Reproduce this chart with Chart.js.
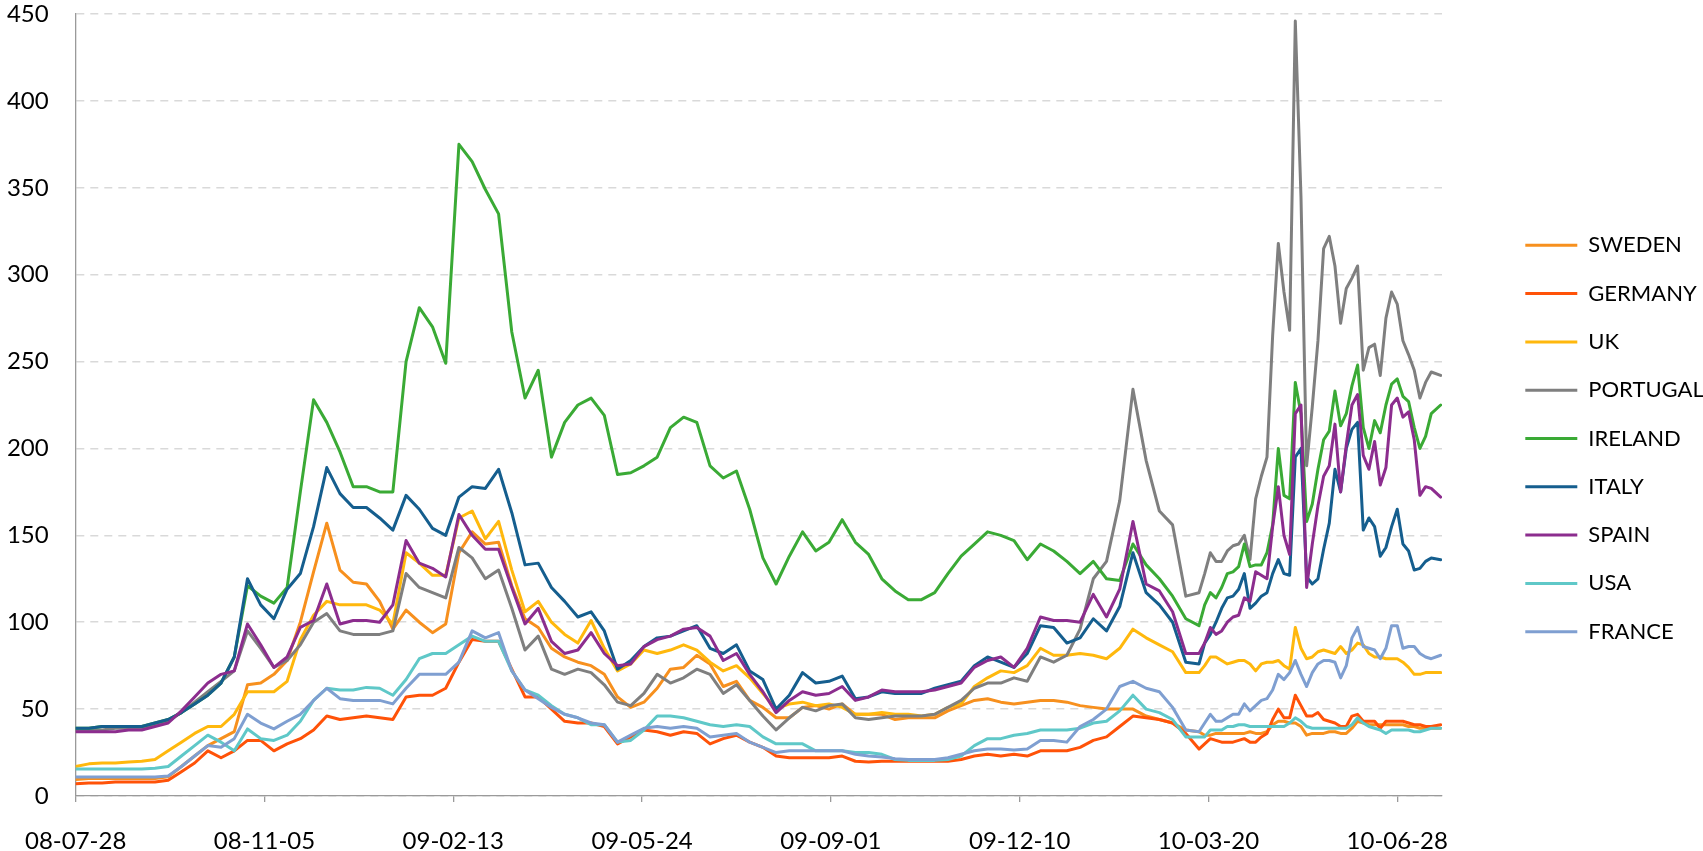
<!DOCTYPE html>
<html>
<head>
<meta charset="utf-8">
<script src="https://cdn.jsdelivr.net/npm/chart.js@4.4.0/dist/chart.umd.min.js"></script>
<style>
    html, body { margin: 0; padding: 0; background: #fff; }
</style>
</head>
<body>
<canvas id="myChartLine" width="1703" height="851"></canvas>
<script>
// days counted from 2008-07-28 (weekly, then every 3 days where the lines get busy)
let days = [0, 7, 14, 21, 28, 35, 42, 49, 56, 63,
    70, 77, 84, 91, 98, 105, 112, 119, 126, 133,
    140, 147, 154, 161, 168, 175, 182, 189, 196, 203,
    210, 217, 224, 231, 238, 245, 252, 259, 266, 273,
    280, 287, 294, 301, 308, 315, 322, 329, 336, 343,
    350, 357, 364, 371, 378, 385, 392, 399, 406, 413,
    420, 427, 434, 441, 448, 455, 462, 469, 476, 483,
    490, 497, 504, 511, 518, 525, 532, 539, 546, 553,
    560, 567, 574, 581, 588, 595,
    598, 601, 604, 607, 610, 613, 616, 619, 622, 625,
    628, 631, 634, 637, 640, 643, 646, 649, 652, 655,
    658, 661, 664, 667, 670, 673, 676, 679, 682, 685,
    688, 691, 694, 697, 700, 703, 706, 709, 712, 715,
    718, 723];

let countries = ['SWEDEN', 'GERMANY', 'UK', 'PORTUGAL', 'IRELAND', 'ITALY', 'SPAIN', 'USA', 'FRANCE'];

let sweden = [9.5, 10, 10, 10, 10, 10, 10, 11, 17, 23,
    29, 33, 37, 64, 65, 70, 78, 100, 129, 157,
    130, 123, 122, 112, 96, 107, 100, 94, 99, 140,
    152, 145, 146, 121, 102, 97, 85, 80, 77, 75,
    70, 57, 51, 54, 62, 73, 74, 81, 76, 63,
    66, 55, 51, 45, 45, 51, 52, 50, 53, 47,
    47, 47, 44, 45, 45, 45, 49, 52, 55, 56,
    54, 53, 54, 55, 55, 54, 52, 51, 50, 50,
    50, 46, 44, 42, 38, 37,
    35, 35, 36, 36, 36, 36, 36, 36, 37, 36,
    36, 37, 41, 43, 43, 42, 42, 40, 35, 36,
    36, 36, 37, 37, 36, 36, 39, 43, 42, 41,
    41, 41, 41, 41, 41, 41, 40, 40, 39, 39,
    39, 39];

let germany = [7, 7.5, 7.5, 8, 8, 8, 8, 9, 14, 19,
    26, 22, 26, 32, 32, 26, 30, 33, 38, 46,
    44, 45, 46, 45, 44, 57, 58, 58, 62, 77,
    90, 89, 89, 73, 57, 57, 50, 43, 42, 42,
    40, 30, 34, 38, 37, 35, 37, 36, 30, 33,
    35, 31, 28, 23, 22, 22, 22, 22, 23, 20,
    19.5, 20, 20, 20, 20, 20, 20, 21, 23, 24,
    23, 24, 23, 26, 26, 26, 28, 32, 34, 40,
    46, 45, 44, 42, 36, 27,
    30, 33, 32, 31, 31, 31, 32, 33, 31, 31,
    34, 36, 44, 50, 45, 45, 58, 52, 46, 46,
    48, 44, 43, 42, 40, 40, 46, 47, 43, 43,
    43, 39, 43, 43, 43, 43, 42, 41, 41, 40,
    40, 41];

let uk = [17, 18.5, 19, 19, 19.5, 20, 21, 26, 31, 36,
    40, 40, 47, 60, 60, 60, 66, 90, 104, 112,
    110, 110, 110, 107, 99, 140, 134, 127, 127, 160,
    164, 148, 158, 130, 106, 112, 100, 93, 88, 101,
    85, 72, 76, 84, 82, 84, 87, 84, 77, 72,
    75, 68, 59, 50, 53, 54, 52, 53, 51, 47,
    47, 48, 47, 47, 46, 47, 51, 53, 63, 68,
    72, 71, 75, 85, 81, 81, 82, 81, 79, 85,
    96, 91, 87, 83, 71, 71,
    75, 80, 80, 78, 76, 77, 78, 78, 76, 72,
    76, 77, 77, 78, 75, 73, 97, 85, 79, 80,
    83, 84, 83, 82, 86, 82, 84, 88, 87, 82,
    80, 80, 79, 79, 79, 77, 74, 70, 70, 71,
    71, 71];

let portugal = [38, 38, 38, 39, 39, 39, 41, 43, 48, 54,
    60, 66, 72, 95, 85, 74, 78, 87, 100, 105,
    95, 93, 93, 93, 95, 128, 120, 117, 114, 143,
    137, 125, 130, 108, 84, 92, 73, 70, 73, 71,
    64, 54, 52, 59, 70, 65, 68, 73, 70, 59,
    64, 55, 46, 38, 45, 51, 49, 52, 53, 45,
    44, 45, 46, 46, 46, 47, 51, 55, 62, 65,
    65, 68, 66, 80, 77, 81, 96, 125, 135, 170,
    234, 193, 164, 156, 115, 117,
    128, 140, 135, 135, 141, 144, 145, 150, 136, 171,
    184, 195, 265, 318, 290, 268, 446, 345, 190, 224,
    262, 315, 322, 305, 272, 292, 298, 305, 245, 258,
    260, 242, 275, 290, 283, 262, 254, 245, 229, 238,
    244, 242];

let ireland = [39, 39, 40, 40, 40, 40, 42, 44, 48, 53,
    58, 65, 80, 121, 115, 111, 120, 175, 228, 215,
    198, 178, 178, 175, 175, 250, 281, 270, 249, 375,
    365, 349, 335, 267, 229, 245, 195, 215, 225, 229,
    219, 185, 186, 190, 195, 212, 218, 215, 190, 183,
    187, 165, 137, 122, 138, 152, 141, 146, 159, 146,
    139, 125, 118, 113, 113, 117, 128, 138, 145, 152,
    150, 147, 136, 145, 141, 135, 128, 135, 125, 124,
    145, 133, 125, 115, 102, 98,
    110, 117, 114, 120, 128, 129, 132, 145, 132, 133,
    133, 140, 156, 200, 173, 171, 238, 220, 158, 168,
    188, 205, 210, 233, 213, 220, 236, 248, 212, 200,
    216, 209, 225, 237, 240, 230, 227, 212, 200, 207,
    220, 225];

let italy = [39, 39, 40, 40, 40, 40, 42, 44, 48, 53,
    58, 65, 80, 125, 110, 102, 119, 128, 155, 189,
    174, 166, 166, 160, 153, 173, 165, 154, 150, 172,
    178, 177, 188, 163, 133, 134, 120, 112, 103, 106,
    95, 73, 78, 86, 91, 92, 95, 98, 85, 82,
    87, 72, 67, 50, 58, 71, 65, 66, 69, 56,
    57, 60, 59, 59, 59, 62, 64, 66, 75, 80,
    77, 74, 82, 98, 97, 88, 91, 102, 95, 109,
    140, 117, 110, 100, 77, 76,
    88, 93, 100, 108, 114, 115, 119, 128, 108, 111,
    115, 117, 128, 136, 128, 127, 195, 200, 126, 122,
    125, 142, 157, 188, 175, 200, 211, 215, 153, 160,
    155, 138, 143, 155, 165, 145, 141, 130, 131, 135,
    137, 136];

let spain = [37, 37, 37, 37, 38, 38, 40, 42, 49, 57,
    65, 70, 72, 99, 87, 74, 80, 97, 101, 122,
    99, 101, 101, 100, 110, 147, 134, 131, 126, 162,
    150, 142, 142, 120, 99, 108, 89, 82, 84, 94,
    82, 75, 76, 86, 90, 92, 96, 97, 92, 78,
    82, 70, 60, 48, 55, 60, 58, 59, 63, 55,
    57, 61, 60, 60, 60, 61, 63, 65, 74, 78,
    80, 74, 85, 103, 101, 101, 100, 116, 103, 119,
    158, 122, 118, 106, 82, 82,
    88, 97, 93, 95, 100, 103, 104, 114, 112, 129,
    127, 125, 155, 178, 150, 139, 220, 225, 120, 145,
    167, 184, 190, 214, 175, 202, 225, 231, 196, 188,
    204, 179, 189, 225, 229, 218, 221, 205, 173, 178,
    177, 172];

let usa = [15.6, 15.6, 15.5, 15.5, 15.5, 15.5, 16, 17, 23, 29,
    35, 31, 26, 38.6, 33, 32, 35, 43, 55, 62,
    61, 61, 62.5, 62, 58, 67, 79, 82, 82, 87,
    92, 89, 89, 72, 61, 58, 52, 47, 45, 41,
    41, 31, 32, 38, 46, 46, 45, 43, 41, 40,
    41, 40, 34, 30, 30, 30, 26, 26, 26, 25,
    25, 24, 21, 20.5, 20.5, 20.5, 21, 23, 29, 33,
    33, 35, 36, 38, 38, 38, 39, 42, 43, 49,
    58, 50, 48, 44, 34, 34,
    34, 38, 38, 38, 40, 40, 41, 41, 40, 40,
    40, 40, 40, 40, 40, 42, 45, 43, 40, 39,
    39, 39, 39, 39, 39, 39, 41, 45, 42, 40,
    39, 38, 36, 38, 38, 38, 38, 37, 37, 38,
    39, 39];

let france = [11, 11, 11, 11, 11, 11, 11, 11.5, 17, 23,
    29, 28, 33, 47, 42, 38.6, 43, 47, 55, 62,
    56, 55, 55, 55, 53, 62, 70, 70, 70, 77,
    95, 91, 94, 72, 61, 56, 51, 47, 45, 42,
    41, 31, 35, 39, 40, 39, 40, 39, 34, 35,
    36, 31, 28, 25, 26, 26, 26, 26, 26, 24,
    23, 22.5, 21.5, 21, 21, 21, 22, 24, 26, 27,
    27, 26.5, 27, 32, 32, 31, 40, 44, 50, 63,
    66, 62, 60, 51, 38, 37,
    42, 47, 43, 43, 45, 47, 47, 53, 49, 52,
    55, 56, 61, 70, 67, 71, 78, 70, 63, 71,
    76, 78, 78, 77, 68, 75, 91, 97, 86, 85,
    84, 79, 85, 98, 98, 85, 86, 86, 82, 80,
    79, 81];

let seriesValues = [sweden, germany, uk, portugal, ireland, italy, spain, usa, france];
let seriesColors = ['#F7901E', '#FF5208', '#FFB80D', '#7F7F7F', '#3AAA35', '#155E8E', '#8C2D8E', '#5FC8C8', '#7F9FD1'];

let yTicks = [0, 50, 100, 150, 200, 250, 300, 350, 400, 450];

function dayLabel(day) {
    let d = new Date(Date.UTC(2008, 6, 28 + day));
    let yy = String(d.getUTCFullYear()).slice(2);
    let mm = String(d.getUTCMonth() + 1).padStart(2, '0');
    let dd = String(d.getUTCDate()).padStart(2, '0');
    return `${yy}-${mm}-${dd}`;
}

// legend sits a bit away from the plot, like in the original
const legendPlacer = {
    id: 'legendPlacer',
    beforeInit(chart) {
        const fit = chart.legend.fit;
        chart.legend.fit = function () {
            fit.bind(chart.legend)();
            this.width = 261;
        };
    },
    afterLayout(chart) {
        chart.legend.left += 57;
        chart.legend.right += 57;
        chart.legend.top += 6;
        chart.legend.bottom += 6;
    }
};

let datasets = countries.map((name, i) => {
    return {
        label: name,
        data: days.map((d, j) => ({ x: d, y: seriesValues[i][j] })),
        borderColor: seriesColors[i],
        backgroundColor: seriesColors[i],
        borderWidth: 3,
        pointRadius: 0,
        tension: 0,
        fill: false,
        borderJoinStyle: 'round',
        borderCapStyle: 'round',
        order: countries.length - i
    };
});

let myChartLine = new Chart(document.getElementById('myChartLine'), {
    type: 'line',
    data: { datasets },
    plugins: [legendPlacer],
    options: {
        responsive: false,
        animation: false,
        layout: { padding: { top: 14, left: 0, right: 0, bottom: 0 } },
        plugins: {
            tooltip: { enabled: false },
            legend: {
                position: 'right',
                align: 'center',
                labels: {
                    boxWidth: 52,
                    boxHeight: 3,
                    padding: 26.3,
                    color: '#000',
                    font: { family: 'Lato', size: 22 },
                    sort: (a, b) => a.datasetIndex - b.datasetIndex,
                    generateLabels(chart) {
                        let items = Chart.defaults.plugins.legend.labels.generateLabels(chart);
                        items.forEach(item => {
                            item.lineWidth = 0;
                            item.fillStyle = item.strokeStyle;
                        });
                        return items;
                    }
                }
            }
        },
        scales: {
            x: {
                type: 'linear',
                min: 0,
                max: 723.7,
                ticks: {
                    stepSize: 100,
                    includeBounds: false,
                    autoSkip: false,
                    maxRotation: 0,
                    padding: 25,
                    color: '#000',
                    font: { family: 'Lato', size: 24 },
                    callback: value => value % 100 === 0 ? dayLabel(value) : ''
                },
                grid: { drawOnChartArea: false, drawTicks: true, tickLength: 6, color: '#9A9A9A', lineWidth: 1.3 },
                border: { display: true, color: '#9A9A9A', width: 1.3 },
                afterFit(scale) { scale.height = 55; }
            },
            y: {
                min: yTicks[0],
                max: yTicks[yTicks.length - 1],
                ticks: {
                    stepSize: 50,
                    padding: 27,
                    color: '#000',
                    font: { family: 'Lato', size: 24 }
                },
                grid: { color: '#D9D9D9', lineWidth: 1.5, drawTicks: false },
                border: { display: true, color: '#9A9A9A', width: 1.3, dash: [8, 6] },
                afterFit(scale) {
                    scale.width = 71;
                    scale.paddingTop = 0;
                    scale.paddingBottom = 0;
                }
            }
        }
    }
});
</script>
</body>
</html>
